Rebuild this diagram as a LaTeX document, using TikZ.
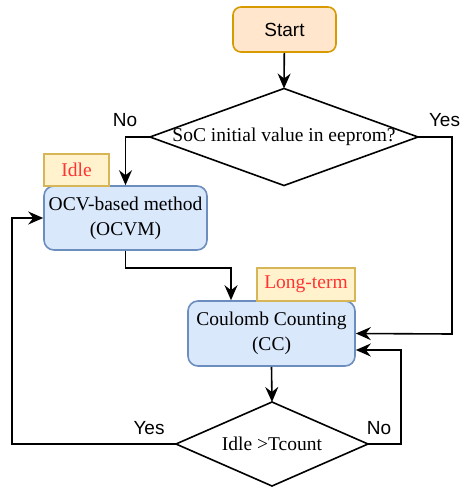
\documentclass[tikz,border=0pt]{standalone}
\usepackage{fontspec}
\setmainfont{Liberation Serif}
\newfontfamily\labelfont{Liberation Sans}
\usepackage{tikz}
\usetikzlibrary{arrows.meta,shapes.geometric}
\definecolor{startfill}{HTML}{FFE6CC}
\definecolor{startline}{HTML}{D79B00}
\definecolor{procfill}{HTML}{DAE8FC}
\definecolor{procline}{HTML}{6C8EBF}
\definecolor{tagfill}{HTML}{FFF2CC}
\definecolor{tagline}{HTML}{D6B656}
\definecolor{tagtext}{HTML}{FF3333}

\begin{document}
\begin{tikzpicture}[x=1pt, y=-1pt, line width=1.6pt, font=\fontsize{19.5}{25}\selectfont,
	startbox/.style={draw=startline, fill=startfill, rounded corners=8pt, minimum width=103pt, minimum height=45pt, font=\fontsize{19}{23}\selectfont\labelfont},
	procbox/.style={draw=procline, fill=procfill, rounded corners=10pt, align=center, inner sep=0pt},
	tagbox/.style={draw=tagline, fill=tagfill, text=tagtext, inner sep=0pt},
	decision/.style={draw, diamond, inner sep=0pt, outer sep=0pt},
	branch/.style={font=\fontsize{19}{23}\selectfont\labelfont},
	flow/.style={-{Stealth[length=15pt, width=13pt, inset=5pt]}}]
	\useasboundingbox (0,0) rectangle (459,489);
	\node[startbox] (start) at (284.5,29.5) {Start};
	\node[decision, aspect=2.76, minimum width=268pt, minimum height=97pt] (eeprom) at (284,137) {\makebox[190pt]{SoC initial value in eeprom?}};
	\node[procbox, minimum width=163pt, minimum height=64pt] (ocvm) at (125.5,218) {OCV-based method\\(OCVM)};
	\node[tagbox, minimum width=65pt, minimum height=32pt] (idle) at (76.5,170) {Idle};
	\node[procbox, minimum width=167pt, minimum height=65pt] (cc) at (271.5,333.5) {Coulomb Counting\\(CC)};
	\node[tagbox, minimum width=98pt, minimum height=33pt] (longterm) at (306,284.5) {Long-term};
	\node[decision, aspect=2.29, minimum width=192pt, minimum height=84pt] (tcount) at (272,444) {Idle >Tcount};
	\node[branch] (no1) at (125,120) {No};
	\node[branch] (yes1) at (444.5,120) {Yes};
	\node[branch] (yes2) at (149,428) {Yes};
	\node[branch] (no2) at (379,428) {No};
	\coordinate (bend1) at (231,268);
	\coordinate (right1) at (452,334);
	\coordinate (right2) at (401,350);
	\coordinate (left1) at (12,218);

	\draw[flow] (start) -- (eeprom.north);
	\draw[flow] (eeprom.west) -| (ocvm.north);
	\draw[flow] (eeprom.east) -| (right1) -- (cc.east);
	\draw[flow] (ocvm.south) |- (bend1) -- (bend1 |- cc.north);
	\draw[flow] (cc.south) -- (tcount.north);
	\draw[flow] (tcount.east) -| (right2) -- (right2 -| cc.east);
	\draw[flow] (tcount.west) -| (left1) -- (ocvm.west);
\end{tikzpicture}
\end{document}
